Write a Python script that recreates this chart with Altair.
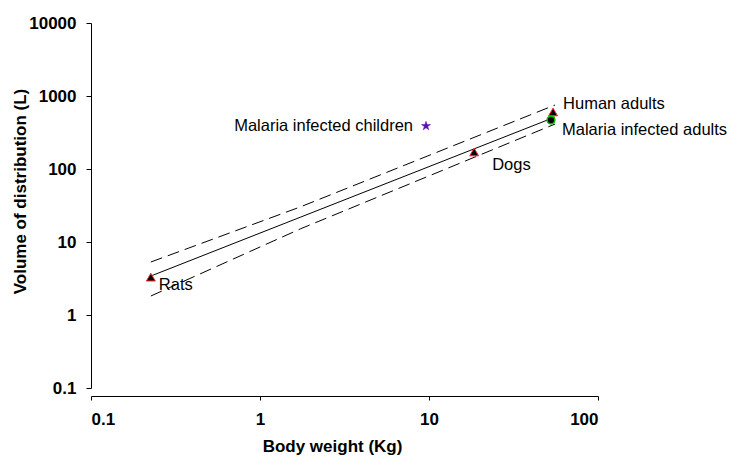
import altair as alt
import pandas as pd

# Species / groups plotted as points (body weight in kg, volume of distribution in L)
species = ["Rats", "Dogs", "Human adults", "Malaria infected adults", "Malaria infected children"]
body_weight = [0.226, 18.5, 54.2, 52.7, 9.6]
vd = [3.3, 171, 604, 469, 388]

# Allometric regression line and its dashed confidence limits
fit_w = [0.226, 55.7]
fit_vd = [3.42, 515]
band_w = [0.226, 1.73, 55.7]
upper_vd = [5.32, 30.2, 753]
lower_vd = [1.82, 15.1, 413]

x_ticks = [0.1, 1, 10, 100]
y_ticks = [0.1, 1, 10, 100, 1000, 10000]

FONT = "Liberation Sans"

# five-pointed star as a custom symbol path (unit coordinates)
STAR = ("M0,-1L0.225,-0.309L0.951,-0.309L0.363,0.118L0.588,0.809L0,0.382"
        "L-0.588,0.809L-0.363,0.118L-0.951,-0.309L-0.225,-0.309Z")

points = pd.DataFrame({"species": species, "w": body_weight, "vd": vd})
healthy = points.iloc[0:3]
malaria_adults = points.iloc[3:4]
malaria_children = points.iloc[4:5]
fit = pd.DataFrame({"w": fit_w, "vd": fit_vd})
upper = pd.DataFrame({"w": band_w, "vd": upper_vd})
lower = pd.DataFrame({"w": band_w, "vd": lower_vd})

x_scale = alt.Scale(type="log", domain=[0.1, 100], nice=False)
y_scale = alt.Scale(type="log", domain=[0.1, 10000], nice=False)

x_enc = alt.X("w:Q", scale=x_scale, title="Body weight (Kg)",
              axis=alt.Axis(values=x_ticks, format="~g", offset=8, tickSize=4,
                            labelPadding=11, titlePadding=11, titleX=241,
                            titleAlign="center", grid=False))
y_enc = alt.Y("vd:Q", scale=y_scale, title="Volume of distribution (L)",
              axis=alt.Axis(values=y_ticks, format="~g", tickSize=5,
                            labelPadding=10, titleX=-71, titleY=168,
                            titleAlign="center", titleBaseline="middle", grid=False))


def layer(df):
    return alt.Chart(df).encode(x=x_enc, y=y_enc)


fit_line = layer(fit).mark_line(color="black", strokeWidth=1)
upper_line = layer(upper).mark_line(color="black", strokeWidth=1, strokeDash=[12, 6])
lower_line = layer(lower).mark_line(color="black", strokeWidth=1, strokeDash=[12, 6])

triangles = layer(healthy).mark_point(
    shape="triangle-up", filled=True, fill="black", stroke="#ff3030", strokeWidth=1,
    size=80, opacity=1)
circle = layer(malaria_adults).mark_point(
    shape="circle", filled=True, fill="black", stroke="#00c000", strokeWidth=1.5,
    size=60, opacity=1)
star = layer(malaria_children).mark_point(
    shape=STAR, filled=True, fill="#5a10b0", stroke="#5a10b0", strokeWidth=0.5,
    size=90, opacity=1)

# label placement relative to each marker: (align, dx, dy)
label_style = [
    ("left", 8, 8),
    ("left", 18, 13),
    ("left", 10, -8),
    ("left", 11, 10),
    ("right", -13, 0),
]

labels = []
for i, (align, dx, dy) in enumerate(label_style):
    labels.append(
        layer(points.iloc[i:i + 1])
        .mark_text(align=align, baseline="middle", dx=dx, dy=dy, fontSize=16.5,
                   font=FONT, color="black")
        .encode(text="species:N")
    )

chart = alt.layer(fit_line, upper_line, lower_line, triangles, circle, star, *labels).properties(
    width=507, height=365,
    autosize="none",
    padding={"left": 91, "top": 23, "right": 131, "bottom": 68},
).configure_view(stroke=None).configure_axis(
    domainColor="black", tickColor="black", labelColor="black", titleColor="black",
    labelFont=FONT, titleFont=FONT, labelFontSize=17, titleFontSize=17,
    labelFontWeight="bold", titleFontWeight="bold",
)

chart.save("out.html", embed_options={"renderer": "svg", "actions": False})
